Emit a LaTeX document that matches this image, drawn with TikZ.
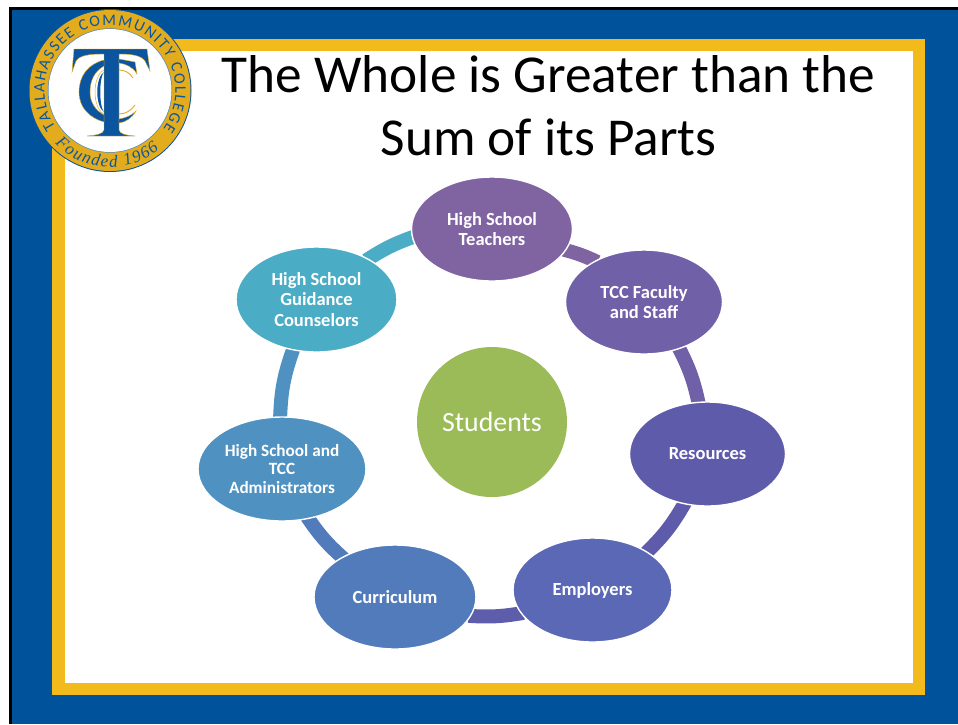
\documentclass[tikz,border=0pt]{standalone}
\usepackage{fontspec}
\setmainfont{Carlito}
\newfontfamily\sealserif{Liberation Serif}
\usetikzlibrary{shapes.geometric,decorations.text}
\definecolor{tccblue}{HTML}{00529B}
\definecolor{tccyellow}{HTML}{F3BA1B}
\definecolor{sealgold}{HTML}{E3AC1C}
\definecolor{sealblue}{HTML}{0B55A0}
\definecolor{cA}{HTML}{8064A2}
\definecolor{cB}{HTML}{7060A8}
\definecolor{cC}{HTML}{5F5BAB}
\definecolor{cD}{HTML}{5B68B5}
\definecolor{cE}{HTML}{527BBB}
\definecolor{cF}{HTML}{4F91C0}
\definecolor{cG}{HTML}{4BACC6}
\definecolor{cS}{HTML}{9BBB59}
\pgfdeclarelayer{bg}
\pgfdeclarelayer{ring}
\pgfsetlayers{bg,ring,main}
\tikzset{
  part/.style={ellipse,inner sep=0pt,draw=white,line width=1.4pt,text=white,align=center,
    font=\fontsize{18.5}{20.5}\selectfont\bfseries},
  link/.style={line width=14pt,shorten <=-3pt,shorten >=-3pt},
}
\begin{document}
\begin{tikzpicture}[x=1pt,y=-1pt]
\useasboundingbox (0,0) rectangle (958,724);
\begin{pgfonlayer}{bg}
\fill[white] (0,0) rectangle (958,724);
\fill[black] (9,7) rectangle (958,724);
\fill[tccblue] (12,10) rectangle (958,724);
\fill[tccyellow] (52,39) rectangle (925,695);
\fill[white] (65,51) rectangle (913,683);
\end{pgfonlayer}

\node (title) at (548.5,106) [align=center,font=\fontsize{53.3}{63}\selectfont] {The Whole is Greater than the\\Sum of its Parts};

\node[part,minimum width=161pt,minimum height=104pt,fill=cA] (teach) at (492,229) {High School\\Teachers};
\node[part,minimum width=157pt,minimum height=104pt,fill=cB] (faculty) at (644,302) {TCC Faculty\\and Staff};
\node[part,minimum width=156pt,minimum height=104pt,fill=cC] (res) at (707.5,454) {Resources};
\node[part,minimum width=159pt,minimum height=104pt,fill=cD] (emp) at (592.5,590) {Employers};
\node[part,minimum width=162pt,minimum height=104pt,fill=cE] (cur) at (395,597) {Curriculum};
\node[part,minimum width=168pt,minimum height=104pt,fill=cF,font=\fontsize{17.2}{18.7}\selectfont\bfseries] (adm) at (282,469) {High School and\\TCC\\Administrators};
\node[part,minimum width=161pt,minimum height=105pt,fill=cG] (guid) at (316.5,299.5) {High School\\Guidance\\Counselors};
\node[circle,fill=cS,minimum size=150pt,inner sep=0pt,text=white,font=\fontsize{27.8}{30}\selectfont] (stu) at (492,422) {Students};

\begin{pgfonlayer}{ring}
\draw[link,cG] (guid.38) to[bend left=6.5] (teach.186);
\draw[link,cA] (teach.-16) to[bend left=5] (faculty.140);
\draw[link,cB] (faculty.-53) to[bend left=7.5] (res.100);
\draw[link,cC] (res.-115) to[bend left=8] (emp.35);
\draw[link,cC!85!cD] (emp.198) to[bend left=6.5] (cur.-14);
\draw[link,cE] (cur.143) to[bend left=7] (adm.-62);
\draw[link,cF] (adm.92) to[bend left=9] (guid.-115);
\end{pgfonlayer}

% seal
\begin{scope}[shift={(110,90.5)},y=1pt]
\fill[sealblue] (0,0) circle (81.5);
\fill[sealgold] (0,0) circle (80.5);
\fill[sealblue!70!white] (0,0) circle (62.2);
\fill[white] (0,0) circle (61.5);
\path[postaction={decorate},decoration={text along path,text align=fit to path,
  text={|\fontsize{16}{16}\selectfont\color{sealblue}|TALLAHASSEE COMMUNITY COLLEGE}}]
  (214:65.5) arc[start angle=214,end angle=-36,radius=65.5];
\path[postaction={decorate},decoration={text along path,text align=fit to path,
  text={|\fontsize{17}{17}\sealserif\itshape\color{sealblue}|Founded 1966}}]
  (224:76.5) arc[start angle=224,end angle=310,radius=76.5];
\end{scope}
% logo, in pixels
\begin{scope}
\fill[sealblue,draw=sealgold,line width=.4pt] (74,49) -- (147,49) -- (150,71) -- (145,61) .. controls (141,55) and (130,54) .. (119,54) -- (119,130) .. controls (120,134) and (125,135) .. (135,136) -- (87,136) .. controls (97,135) and (103,134) .. (104,130) -- (104,54) .. controls (90,54) and (80,55) .. (76,61) -- (72,72) -- cycle;
% large C
\fill[sealblue,draw=sealgold,line width=.4pt] (104,60) .. controls (88,64) and (79,76) .. (79,92) .. controls (79,108) and (90,118) .. (104,122) -- (104,115) .. controls (95,110) and (90,102) .. (90,92) .. controls (90,80) and (95,71) .. (104,66) -- cycle;
\fill[sealblue,draw=sealgold,line width=.4pt] (119,123) .. controls (126,122) and (132,118) .. (136,111) .. controls (131,116) and (125,118) .. (119,119) -- cycle;
\fill[sealblue,draw=sealgold,line width=.4pt] (119,59) -- (135,62) -- (137,74) .. controls (133,67) and (126,64) .. (119,63) -- cycle;
% small C
\draw[sealgold,line width=.5pt] (104,70) .. controls (92,76) and (92,108) .. (104,114);
\draw[sealgold,line width=.9pt] (119,70) .. controls (125,70) and (130,73) .. (133,78);
\draw[sealgold,line width=.9pt] (119,114) .. controls (125,114) and (131,111) .. (135,105);
\fill[sealblue] (104,72) .. controls (95,78) and (95,106) .. (104,112) .. controls (99,106) and (99,78) .. (104,72) -- cycle;
\end{scope}
\end{tikzpicture}
\end{document}
